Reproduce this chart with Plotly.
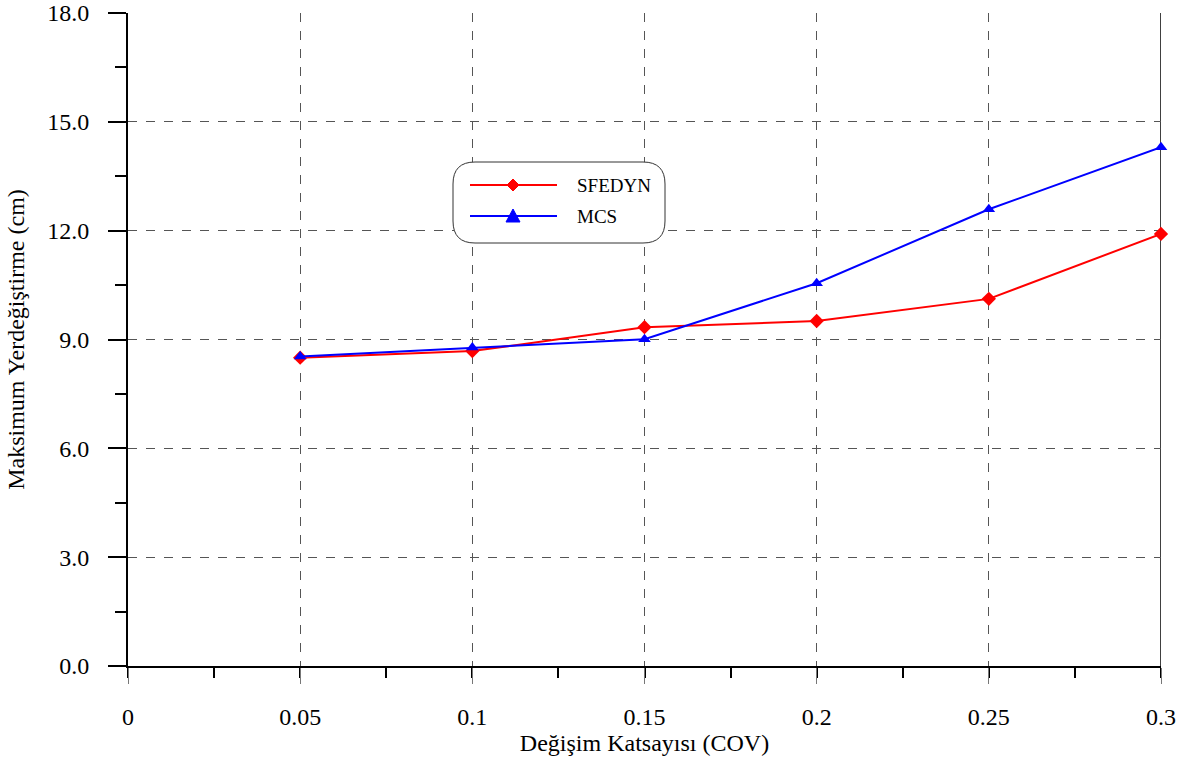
import plotly.graph_objects as go

cov = [0.05, 0.10, 0.15, 0.20, 0.25, 0.30]
sfedyn = [8.50, 8.68, 9.34, 9.51, 10.12, 11.91]
mcs = [8.53, 8.78, 9.01, 10.55, 12.59, 14.30]

x_ticks = [0, 0.05, 0.1, 0.15, 0.2, 0.25, 0.3]
x_labels = ["0", "0.05", "0.1", "0.15", "0.2", "0.25", "0.3"]
y_ticks = [0, 3, 6, 9, 12, 15, 18]
y_labels = ["0.0", "3.0", "6.0", "9.0", "12.0", "15.0", "18.0"]
series_names = ["SFEDYN", "MCS"]
series_colors = ["#ff0000", "#0000ff"]

FONT = "Liberation Serif, Times New Roman, serif"
W, H = 1185, 760
ml, mr, mt, mb = 128, 24, 13, 94
pw, ph = W - ml - mr, H - mt - mb
def px(x): return (x - ml) / pw
def py(y): return 1 - (y - mt) / ph

fig = go.Figure()
fig.add_trace(go.Scatter(x=cov, y=sfedyn, name=series_names[0], mode="lines+markers",
                         line=dict(color=series_colors[0], width=2), cliponaxis=False,
                         marker=dict(symbol="diamond", size=11, color=series_colors[0])))
fig.add_trace(go.Scatter(x=cov, y=mcs, name=series_names[1], mode="lines+markers",
                         line=dict(color=series_colors[1], width=2), cliponaxis=False,
                         marker=dict(symbol="triangle-up", size=11, color=series_colors[1])))

# rounded legend box
x0, x1, y0, y1, r = 453, 665, 162, 243, 22
path = (f"M {px(x0+r)},{py(y0)} L {px(x1-r)},{py(y0)} Q {px(x1)},{py(y0)} {px(x1)},{py(y0+r)} "
        f"L {px(x1)},{py(y1-r)} Q {px(x1)},{py(y1)} {px(x1-r)},{py(y1)} L {px(x0+r)},{py(y1)} "
        f"Q {px(x0)},{py(y1)} {px(x0)},{py(y1-r)} L {px(x0)},{py(y0+r)} Q {px(x0)},{py(y0)} {px(x0+r)},{py(y0)} Z")

shapes = [
    dict(type="path", path=path, xref="paper", yref="paper",
         fillcolor="white", line=dict(color="#333", width=1), layer="above"),
    dict(type="line", xref="x", yref="paper", x0=0.3, x1=0.3, y0=0, y1=1,
         line=dict(color="black", width=1.5), layer="below"),
]
annotations = []
# legend entries (line, marker, label)
leg_rows = [185, 216]
lx0, lx1, mx, tx = 470, 557, 513, 575
for i, (name, col) in enumerate(zip(series_names, series_colors)):
    yy = leg_rows[i]
    shapes.append(dict(type="line", xref="paper", yref="paper",
                       x0=px(lx0), x1=px(lx1), y0=py(yy), y1=py(yy),
                       line=dict(color=col, width=2), layer="above"))
    if i == 0:
        s = 6
        mp = (f"M {px(mx)},{py(yy-s)} L {px(mx+s)},{py(yy)} L {px(mx)},{py(yy+s)} "
              f"L {px(mx-s)},{py(yy)} Z")
    else:
        s = 6
        mp = (f"M {px(mx)},{py(yy-s-1)} L {px(mx+s+1)},{py(yy+s)} L {px(mx-s-1)},{py(yy+s)} Z")
    shapes.append(dict(type="path", path=mp, xref="paper", yref="paper",
                       fillcolor=col, line=dict(color=col, width=1), layer="above"))
    annotations.append(dict(text=name, xref="paper", yref="paper", x=px(tx), y=py(yy),
                            xanchor="left", yanchor="middle", showarrow=False,
                            font=dict(family=FONT, size=19, color="black")))

fig.update_layout(
    width=W, height=H,
    margin=dict(l=ml, r=mr, t=mt, b=mb, autoexpand=False),
    paper_bgcolor="white", plot_bgcolor="white",
    font=dict(family=FONT, size=24, color="black"),
    showlegend=False,
    shapes=shapes,
    annotations=annotations,
    xaxis=dict(range=[0, 0.3], tickvals=x_ticks, ticktext=x_labels,
               showgrid=True, gridcolor="#555", griddash="dash", gridwidth=1,
               showline=True, linecolor="black", linewidth=2,
               ticks="outside", ticklen=16, tickcolor="#777", tickwidth=1,
               ticklabelstandoff=12, automargin=False,
               tickfont=dict(family=FONT, size=24),
               minor=dict(dtick=0.025, tick0=0, ticks="outside", ticklen=10,
                          tickcolor="black", tickwidth=2, showgrid=False),
               zeroline=False,
               title=dict(text="Değişim Katsayısı (COV)", standoff=0,
                          font=dict(family=FONT, size=24))),
    yaxis=dict(range=[0, 18], tickvals=y_ticks, ticktext=y_labels,
               showgrid=True, gridcolor="#555", griddash="dash", gridwidth=1,
               showline=True, linecolor="black", linewidth=2,
               ticks="outside", ticklen=18, tickcolor="black", tickwidth=2,
               ticklabelstandoff=14, automargin=False,
               tickfont=dict(family=FONT, size=24),
               minor=dict(dtick=1.5, tick0=0, ticks="outside", ticklen=11,
                          tickcolor="black", tickwidth=2, showgrid=False),
               zeroline=False,
               title=dict(text="Maksimum Yerdeğiştirme (cm)", standoff=16,
                          font=dict(family=FONT, size=24))),
)

fig.write_html("out.html")
